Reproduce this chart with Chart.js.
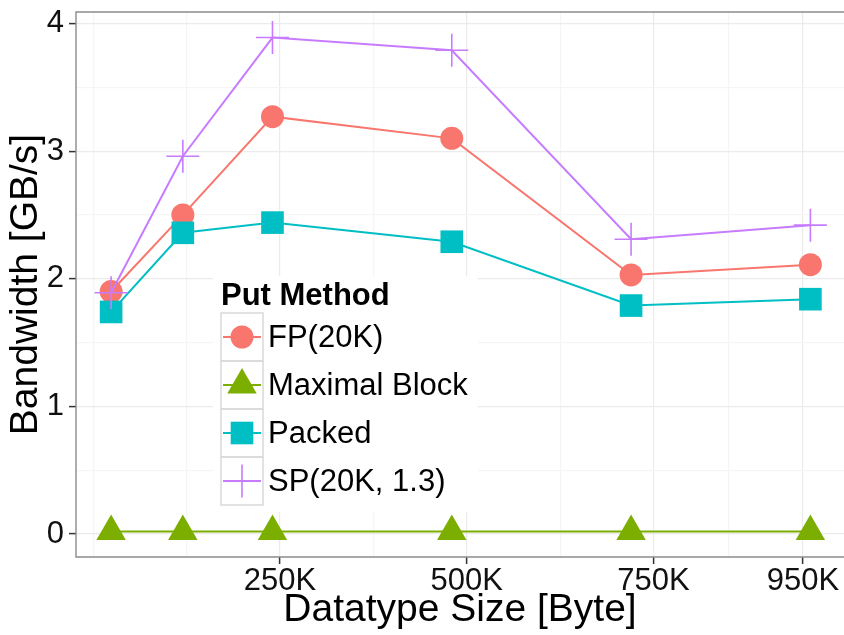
<!DOCTYPE html>
<html>
<head>
<meta charset="utf-8">
<title>Bandwidth vs datatype size</title>
<script src="https://cdn.jsdelivr.net/npm/chart.js@4.4.0/dist/chart.umd.min.js"></script>
<style>
html,body{margin:0;padding:0;background:#fff}
#wrap{width:844px;height:635px;position:relative}
</style>
</head>
<body>
<div id="wrap"><canvas id="bw" width="844" height="635"></canvas></div>
<script>
/* ---- datos ---- */
const sizesK      = [24, 120, 240, 480, 720, 960];          // Datatype size (K bytes)
const seriesNames = ['FP(20K)', 'Maximal Block', 'Packed', 'SP(20K, 1.3)'];
const bwFP        = [1.90, 2.50, 3.27, 3.10, 2.03, 2.11];
const bwMaxBlock  = [0.02, 0.02, 0.02, 0.02, 0.02, 0.02];
const bwPacked    = [1.74, 2.36, 2.44, 2.29, 1.79, 1.84];
const bwSP        = [1.89, 2.96, 3.89, 3.79, 2.31, 2.42];
const xMajor = [250, 500, 750, 950];
const xMinor = [0, 125, 375, 625, 850];
const yMajor = [0, 1, 2, 3, 4];
const yMinor = [0.5, 1.5, 2.5, 3.5];
const legendTitle = 'Put Method';
const xTitle = 'Datatype Size [Byte]';
const yTitle = 'Bandwidth [GB/s]';

/* ---- estilos (paleta ggplot) ---- */
const colors = ['#F8766D', '#7CAE00', '#00BFC4', '#C77CFF'];
const shapes = ['circle', 'triangle', 'rect', 'cross'];
const radii  = [11.5, 17, 16, 16.5];
const FONT = '"Liberation Sans", Arial, Helvetica, sans-serif';

const allSeries = [bwFP, bwMaxBlock, bwPacked, bwSP];
const datasets = allSeries.map((vals, i) => ({
  label: seriesNames[i],
  data: sizesK.map((x, j) => ({x, y: vals[j]})),
  borderColor: colors[i],
  backgroundColor: colors[i],
  borderWidth: 2,
  pointStyle: shapes[i],
  pointRadius: radii[i],
  pointHoverRadius: radii[i],
  pointBorderWidth: shapes[i] === 'cross' ? 1.6 : 0,
  pointBackgroundColor: colors[i],
  pointBorderColor: colors[i],
  order: 4 - i,
  tension: 0
}));

function drawMark(ctx, shape, x, y, r, color){
  ctx.save();
  ctx.fillStyle = color; ctx.strokeStyle = color;
  ctx.beginPath();
  if(shape === 'circle'){
    ctx.arc(x, y, r, 0, Math.PI*2); ctx.fill();
  } else if(shape === 'triangle'){
    let a = 0;
    for(let k=0;k<3;k++){
      const px = x + Math.sin(a)*r, py = y - Math.cos(a)*r;
      k ? ctx.lineTo(px, py) : ctx.moveTo(px, py);
      a += Math.PI*2/3;
    }
    ctx.closePath(); ctx.fill();
  } else if(shape === 'rect'){
    const s = Math.SQRT1_2*r;
    ctx.rect(x-s, y-s, 2*s, 2*s); ctx.fill();
  } else {
    ctx.lineWidth = 1.6;
    ctx.moveTo(x-r, y); ctx.lineTo(x+r, y);
    ctx.moveTo(x, y-r); ctx.lineTo(x, y+r);
    ctx.stroke();
  }
  ctx.restore();
}

/* borde del panel (theme_bw) */
const panelBorder = {
  id: 'panelBorder',
  afterDatasetsDraw(chart){
    const {ctx, chartArea: a} = chart;
    ctx.save();
    ctx.strokeStyle = '#8c8c8c'; ctx.lineWidth = 1.4;
    ctx.beginPath();
    ctx.moveTo(a.right+2, a.top); ctx.lineTo(a.left, a.top);
    ctx.lineTo(a.left, a.bottom); ctx.lineTo(a.right+2, a.bottom);
    ctx.stroke();
    ctx.restore();
  }
};

/* leyenda estilo ggplot, dentro del panel */
const ggLegend = {
  id: 'ggLegend',
  afterDraw(chart){
    const ctx = chart.ctx;
    ctx.save();
    ctx.fillStyle = '#fff';
    ctx.fillRect(213, 276, 265, 236);
    ctx.fillStyle = '#000';
    ctx.font = 'bold 31px ' + FONT;
    ctx.textBaseline = 'alphabetic';
    ctx.fillText(legendTitle, 221, 305);
    const keyX = 221, keyW = 42, rowTop = 313, rowH = 48;
    chart.data.datasets.forEach((ds, i) => {
      const y0 = rowTop + i*rowH, cy = y0 + rowH/2, cx = keyX + keyW/2;
      ctx.strokeStyle = '#d9d9d9'; ctx.lineWidth = 1.5;
      ctx.strokeRect(keyX, y0, keyW, rowH);
      ctx.strokeStyle = ds.borderColor; ctx.lineWidth = 2;
      ctx.beginPath(); ctx.moveTo(keyX+2, cy); ctx.lineTo(keyX+keyW-2, cy); ctx.stroke();
      drawMark(ctx, ds.pointStyle, cx, cy, ds.pointRadius, ds.borderColor);
      ctx.fillStyle = '#000';
      ctx.font = '31px ' + FONT;
      ctx.textBaseline = 'middle';
      ctx.fillText(ds.label, 268, cy + 1);
    });
    ctx.restore();
  }
};

const gridCol = (majors) => c => majors.includes(c.tick.value) ? '#ebebeb' : '#f5f5f5';
const tickCol = (majors) => c => majors.includes(c.tick.value) ? '#333' : 'rgba(0,0,0,0)';

new Chart(document.getElementById('bw'), {
  type: 'line',
  data: {datasets},
  options: {
    responsive: false,
    animation: false,
    layout: {autoPadding: false, padding: {left: 0, top: 12, right: 0, bottom: 0}},
    plugins: {legend: {display: false}, tooltip: {enabled: false}},
    scales: {
      x: {
        type: 'linear', min: -23, max: 1005,
        afterBuildTicks: s => { s.ticks = [...xMinor, ...xMajor].sort((a,b)=>a-b).map(v => ({value: v})); },
        afterFit: s => { s.height = 78; s.paddingLeft = 0; s.paddingRight = 0; },
        ticks: {
          autoSkip: false, maxRotation: 0, padding: 2, color: '#111',
          font: {family: FONT, size: 31, lineHeight: 1},
          callback: v => xMajor.includes(v) ? v + 'K' : ''
        },
        grid: {color: gridCol(xMajor), lineWidth: 1.2, tickColor: tickCol(xMajor), tickLength: 7, tickWidth: 1.5},
        border: {display: false},
        title: {display: true, text: xTitle, color: '#000',
          font: {family: FONT, size: 39, lineHeight: 1.2}, padding: {top: 0, bottom: 1}}
      },
      y: {
        min: -0.18, max: 4.09,
        afterBuildTicks: s => { s.ticks = [...yMajor, ...yMinor].sort((a,b)=>a-b).map(v => ({value: v})); },
        afterFit: s => { s.width = 76; s.paddingTop = 0; s.paddingBottom = 0; },
        ticks: {
          autoSkip: false, padding: 5, color: '#111',
          font: {family: FONT, size: 31, lineHeight: 1},
          callback: v => yMajor.includes(v) ? String(v) : ''
        },
        grid: {color: gridCol(yMajor), lineWidth: 1.2, tickColor: tickCol(yMajor), tickLength: 7, tickWidth: 1.5},
        border: {display: false},
        title: {display: true, text: yTitle, color: '#000',
          font: {family: FONT, size: 39, lineHeight: 1.2}, padding: {top: 3, bottom: 0}}
      }
    }
  },
  plugins: [panelBorder, ggLegend]
});
</script>
</body>
</html>
